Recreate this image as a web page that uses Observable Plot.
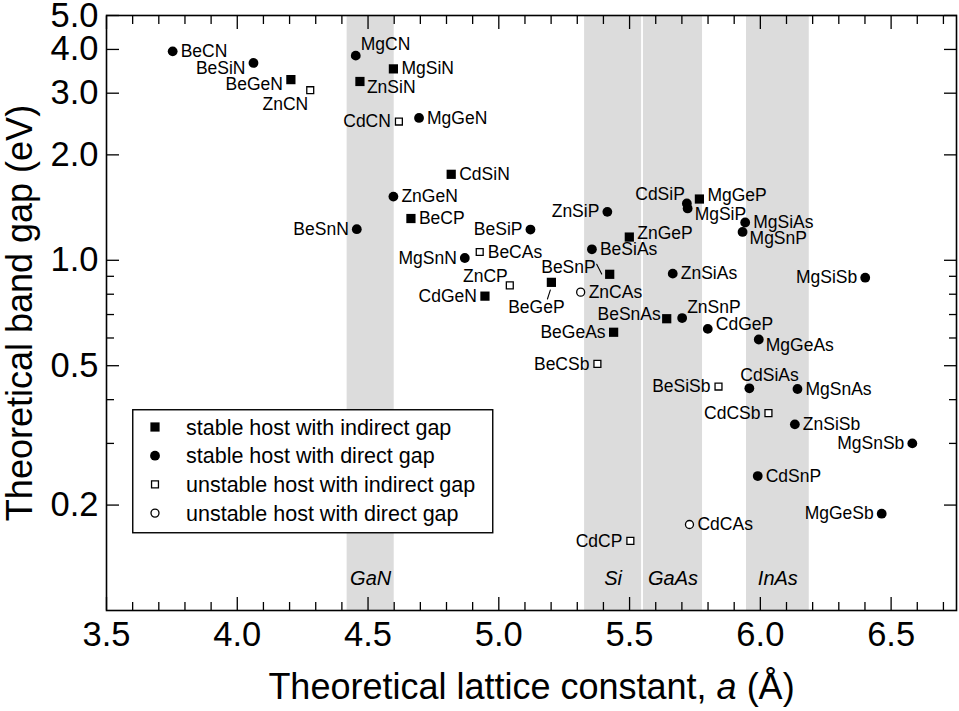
<!DOCTYPE html>
<html><head><meta charset="utf-8">
<script src="https://cdn.jsdelivr.net/npm/d3@7"></script>
<script src="https://cdn.jsdelivr.net/npm/@observablehq/plot@0.6"></script>
<style>
body{margin:0;background:#fff;}
#wrap{position:relative;width:959px;height:711px;}
#legend{position:absolute;left:132px;top:409px;}
</style></head><body><div id="wrap"></div>
<script>
// ---- data ----
const names = ["BeCN","BeSiN","BeGeN","ZnCN","MgCN","MgSiN","ZnSiN","CdCN","MgGeN","CdSiN",
  "ZnGeN","BeCP","BeSnN","MgSnN","BeSiP","BeCAs","ZnCP","CdGeN","BeGeP","BeSnP",
  "ZnCAs","ZnSiP","ZnGeP","BeSiAs","BeGeAs","BeSnAs","ZnSiAs","ZnSnP","CdGeP","MgGeAs",
  "BeCSb","CdSiP","MgSiP","MgGeP","MgSiAs","MgSnP","MgSiSb","BeSiSb","CdSiAs","MgSnAs",
  "CdCSb","ZnSiSb","MgSnSb","CdSnP","MgGeSb","CdCAs","CdCP"];
const lattice = [3.753,4.062,4.205,4.279,4.453,4.597,4.469,4.618,4.695,4.818,
  4.597,4.664,4.457,4.870,5.121,4.927,5.042,4.947,5.201,5.424,
  5.313,5.415,5.499,5.356,5.439,5.642,5.665,5.701,5.799,5.994,
  5.377,5.719,5.722,5.767,5.942,5.932,6.401,5.840,5.958,6.142,
  6.031,6.132,6.581,5.990,6.464,5.729,5.503];
const gaps = [3.95,3.66,3.28,3.06,3.84,3.52,3.24,2.49,2.55,1.76,
  1.52,1.316,1.227,1.015,1.224,1.056,0.848,0.790,0.865,0.912,
  0.811,1.375,1.165,1.075,0.623,0.681,0.916,0.684,0.637,0.594,
  0.506,1.453,1.406,1.496,1.282,1.205,0.892,0.436,0.431,0.429,
  0.366,0.340,0.300,0.242,0.189,0.176,0.158];
// si = stable/indirect, sd = stable/direct, ui = unstable/indirect, ud = unstable/direct
const kinds = ["sd","sd","si","ui","sd","si","si","ui","sd","si",
  "sd","si","sd","sd","sd","ui","ui","si","si","si",
  "ud","sd","si","sd","si","si","sd","sd","sd","sd",
  "ui","sd","sd","si","sd","sd","sd","ui","sd","sd",
  "ui","sd","sd","sd","sd","ud","ui"];
// label placement category relative to the marker
const labelSide = ["r","ld","ld","ll","ur","r","lr","l","r","r",
  "r","r","l","l","l","r","ul","l","bl","ulx",
  "r","l","ru","r","l","lu","r","ur","ru","lr",
  "l","ul","lr","ru","r","lr","l","l","ab","r",
  "l","r","l","r","l","r","l"];
const kindOrder = ["si","sd","ui","ud"];
const kindLabels = ["stable host with indirect gap","stable host with direct gap",
  "unstable host with indirect gap","unstable host with direct gap"];
const bandNames = ["GaN","Si","GaAs","InAs"];
const bandLo = [4.42,5.328,5.553,5.947];
const bandHi = [4.60,5.546,5.779,6.187];
const xTicks = [3.5,4.0,4.5,5.0,5.5,6.0,6.5];
const xMinor = [3.6,3.7,3.8,3.9,4.1,4.2,4.3,4.4,4.6,4.7,4.8,4.9,5.1,5.2,5.3,5.4,5.6,5.7,5.8,5.9,6.1,6.2,6.3,6.4,6.6,6.7];
const yTicks = [0.2,0.5,1.0,2.0,3.0,4.0,5.0];
const yMinor = [0.3,0.4,0.6,0.7,0.8,0.9];
const xTitle = "Theoretical lattice constant, a (Å)";
const yTitle = "Theoretical band gap (eV)";

// ---- build ----
const rows = names.map((n,i)=>({name:n, a:lattice[i], gap:gaps[i], kind:kinds[i], side:labelSide[i]}));
const bands = bandNames.map((n,i)=>({name:n, lo:bandLo[i], hi:bandHi[i]}));

const symStyle = {
  si:{symbol:"square", r:5.2, fill:"black", stroke:"none"},
  sd:{symbol:"circle", r:4.9, fill:"black", stroke:"none"},
  ui:{symbol:"square", r:3.9, fill:"white", stroke:"black", strokeWidth:1.3},
  ud:{symbol:"circle", r:4.0, fill:"white", stroke:"black", strokeWidth:1.3}
};
const sides = {
  r:{dx:8, dy:0, textAnchor:"start"},
  l:{dx:-8, dy:0, textAnchor:"end"},
  ld:{dx:-8, dy:5, textAnchor:"end"},
  ll:{dx:-2, dy:14, textAnchor:"end"},
  ur:{dx:5, dy:-11, textAnchor:"start"},
  ul:{dx:-2, dy:-9, textAnchor:"end"},
  lr:{dx:7, dy:6, textAnchor:"start"},
  lu:{dx:-6, dy:-4, textAnchor:"end"},
  ru:{dx:8, dy:-4, textAnchor:"start"},
  ab:{dx:-9, dy:-13, textAnchor:"start"},
  bl:{dx:-15, dy:25, textAnchor:"middle"},
  ulx:{dx:-14, dy:-7, textAnchor:"end"}
};
const leaderShape = {draw(context, l){ context.moveTo(0,0); context.lineTo(0,-l); }};
const leaders = [
  {name:"BeGeP", dx:-1, dy:7.6, length:9.5, rotate:198},
  {name:"BeSnP", dx:-13, dy:-10, length:11, rotate:153}
];

const axisFont = 34.5;
const marks = [
  Plot.rect(bands, {x1:"lo", x2:"hi", fill:"#dcdcdc"}),
  Plot.text(bands, {x:d=>(d.lo+d.hi)/2, text:"name", frameAnchor:"bottom", lineAnchor:"middle", dy:-32.4, fontSize:20, fontStyle:"italic"}),
  // axes: labels
  Plot.axisX(xTicks, {anchor:"bottom", tickSize:0, tickPadding:11, tickFormat:d3.format(".1f"), fontSize:axisFont, label:null}),
  Plot.axisY(yTicks, {anchor:"left", tickSize:0, tickPadding:8, tickFormat:d3.format(".1f"), fontSize:axisFont, label:null}),
  // inward ticks on all sides
  Plot.axisX(xTicks, {anchor:"bottom", tickSize:-13, fill:"none", label:null, strokeWidth:1.3}),
  Plot.axisX(xMinor, {anchor:"bottom", tickSize:-8, fill:"none", label:null, strokeWidth:1.3}),
  Plot.axisX(xTicks, {anchor:"top", tickSize:-13, fill:"none", label:null, strokeWidth:1.3}),
  Plot.axisX(xMinor, {anchor:"top", tickSize:-8, fill:"none", label:null, strokeWidth:1.3}),
  Plot.axisY(yTicks, {anchor:"left", tickSize:-13, fill:"none", label:null, strokeWidth:1.3}),
  Plot.axisY(yMinor, {anchor:"left", tickSize:-8, fill:"none", label:null, strokeWidth:1.3}),
  Plot.axisY(yTicks, {anchor:"right", tickSize:-13, fill:"none", label:null, strokeWidth:1.3}),
  Plot.axisY(yMinor, {anchor:"right", tickSize:-8, fill:"none", label:null, strokeWidth:1.3}),
  Plot.frame({strokeWidth:1.6}),
  ...kindOrder.map(k => Plot.dot(rows.filter(d=>d.kind===k), {x:"a", y:"gap", ...symStyle[k]})),
  ...leaders.map(L => Plot.vector(rows.filter(d=>d.name===L.name), {x:"a", y:"gap", anchor:"start", shape:leaderShape,
      length:L.length, rotate:L.rotate, dx:L.dx, dy:L.dy, stroke:"black", strokeWidth:1.1})),
  ...Object.entries(sides).map(([k,o]) => Plot.text(rows.filter(d=>d.side===k), {x:"a", y:"gap", text:"name", fontSize:17.5, ...o})),
  Plot.text([yTitle], {text:d=>d, frameAnchor:"left", textAnchor:"middle", lineAnchor:"middle", dx:-86.5, rotate:-90, fontSize:36}),
  Plot.text([xTitle], {text:d=>d, frameAnchor:"bottom", textAnchor:"middle", lineAnchor:"middle", dy:76.5, fontSize:36})
];

const chart = Plot.plot({
  width:959, height:711,
  marginLeft:106, marginRight:3, marginTop:15, marginBottom:101,
  style:{fontFamily:"'Liberation Sans', Arial, Helvetica, sans-serif", fontSize:"17.5px", background:"white", color:"black"},
  x:{domain:[3.5,6.75], axis:null},
  y:{type:"log", domain:[0.1,5], axis:null},
  marks
});
const wrap = document.getElementById("wrap");
wrap.appendChild(chart);

// italic "a" in the x title
d3.select(chart).selectAll("text").filter(function(){ return this.textContent === xTitle; }).each(function(){
  const t = d3.select(this); t.text("");
  t.append("tspan").text("Theoretical lattice constant, ");
  t.append("tspan").attr("font-style","italic").text("a");
  t.append("tspan").text(" (Å)");
});

// legend box overlaid inside the plot area
const lg = d3.select(wrap).append("svg").attr("id","legend").attr("width",362).attr("height",125)
  .style("font-family","'Liberation Sans', Arial, Helvetica, sans-serif");
lg.append("rect").attr("x",0.75).attr("y",0.75).attr("width",360).attr("height",123)
  .attr("fill","white").attr("stroke","black").attr("stroke-width",1.4);
kindOrder.forEach((k,i)=>{
  const s = symStyle[k], cy = 18 + i*28.7;
  const sym = d3.symbol(s.symbol==="square"?d3.symbolSquare:d3.symbolCircle, Math.PI*s.r*s.r);
  lg.append("path").attr("d", sym()).attr("transform",`translate(23,${cy})`)
    .attr("fill", s.fill).attr("stroke", s.stroke).attr("stroke-width", s.strokeWidth||0);
  lg.append("text").attr("x",54).attr("y",cy).attr("dy","0.35em").attr("font-size","21.5px").text(kindLabels[i]);
});
</script></body></html>
